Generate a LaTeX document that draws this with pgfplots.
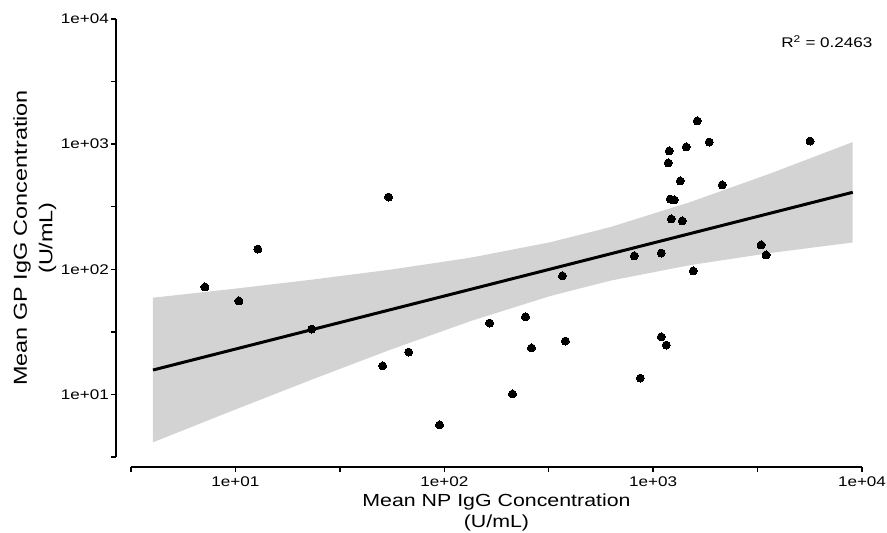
\documentclass[border=0pt]{standalone}
\usepackage{pgfplots}
\pgfplotsset{compat=1.18}
\usepackage{fontspec}
\setmainfont{Liberation Sans}
\newfontfamily\wide{Liberation Sans}[FakeStretch=1.22]
\begin{document}
\begin{tikzpicture}
\useasboundingbox (-131pt,-76pt) rectangle (756pt,457pt);
\begin{axis}[
  at={(0,0)}, anchor=south west,
  scale only axis, width=731pt, height=438pt,
  xmode=log, ymode=log,
  xmin=3.16228, xmax=10000, ymin=3.16228, ymax=10000,
  axis x line=bottom, axis y line=left,
  axis x line shift=10pt, axis y line shift=15pt,
  axis line style={-, line width=1.6pt, black},
  tick style={line width=1.4pt, black},
  tick align=outside, major tick length=5pt,
  xtick={3.16228,10,31.6228,100,316.228,1000,3162.28,10000},
  ytick={3.16228,10,31.6228,100,316.228,1000,3162.28,10000},
  xticklabels={,\mbox{1e+01},,\mbox{1e+02},,\mbox{1e+03},,\mbox{1e+04}},
  yticklabels={,\mbox{1e+01},,\mbox{1e+02},,\mbox{1e+03},,\mbox{1e+04}},
  xminorticks=false, yminorticks=false,
  tick label style={font=\wide\fontsize{14}{14}\selectfont, text=black},
  xticklabel style={yshift=-1pt},
  yticklabel style={inner sep=2pt},
  xlabel={Mean NP IgG Concentration\\(U/mL)},
  xlabel style={at={(axis description cs:0.5,-0.0845)}, anchor=north, align=center,
    font=\wide\fontsize{17.5}{21}\selectfont, inner sep=0pt},
  ylabel={Mean GP IgG Concentration\\(U/mL)},
  ylabel style={at={(axis description cs:-0.1614,0.5)}, anchor=north, align=center,
    font=\fontsize{18.75}{25.6}\selectfont, inner sep=0pt, xscale=1.25},
  clip=false,
]
\addplot[only marks, mark=*, mark size=4pt, mark options={fill=black, draw=black, line width=0pt}] coordinates {
(7.14,72.2) (10.39,55.8) (12.80,145.2) (23.2,33.3) (54.1,378) (67.5,21.8)
(50.7,16.9) (94.9,5.70) (164.7,37.2) (244.8,41.6) (261.5,23.5) (367.8,88.4)
(380.2,26.7) (212.1,10.08) (868,13.5) (1094,28.8) (1156,24.8) (812.6,127.7)
(1094,134.9) (1221,252.3) (1378,243.2) (1208,364.4) (1262,357.8) (1349,507.6)
(1181,707) (1194.5,881.6) (1440.6,948.9) (1626,1531) (1856,1040) (2141,471.7)
(1556,96.9) (3289,156.4) (3475,130.1) (5641,1059)
};
\addplot[draw=none, fill=black!34, fill opacity=0.5] coordinates {
(4.03,59.3) (9.51,69.4) (22.95,82.4) (55.37,99.4) (133.6,123.8) (322.3,164.6)
(624.0,217.4) (1505.5,344.3) (3632,581.8) (9028,1038.5)
(9028,163.7) (3632,134.9) (1505.5,108.0) (624.0,81.1) (322.3,61.2) (133.6,38.55)
(55.37,22.81) (22.95,13.04) (9.51,7.33) (4.03,4.145)
} -- cycle;
\addplot[black, line width=3pt] coordinates {(4.03,15.67) (9028,412.3)};
\node[font=\wide\fontsize{14}{14}\selectfont, anchor=center] at (rel axis cs:0.952,0.9475) {R\textsuperscript{2} = 0.2463};
\end{axis}
\end{tikzpicture}
\end{document}
